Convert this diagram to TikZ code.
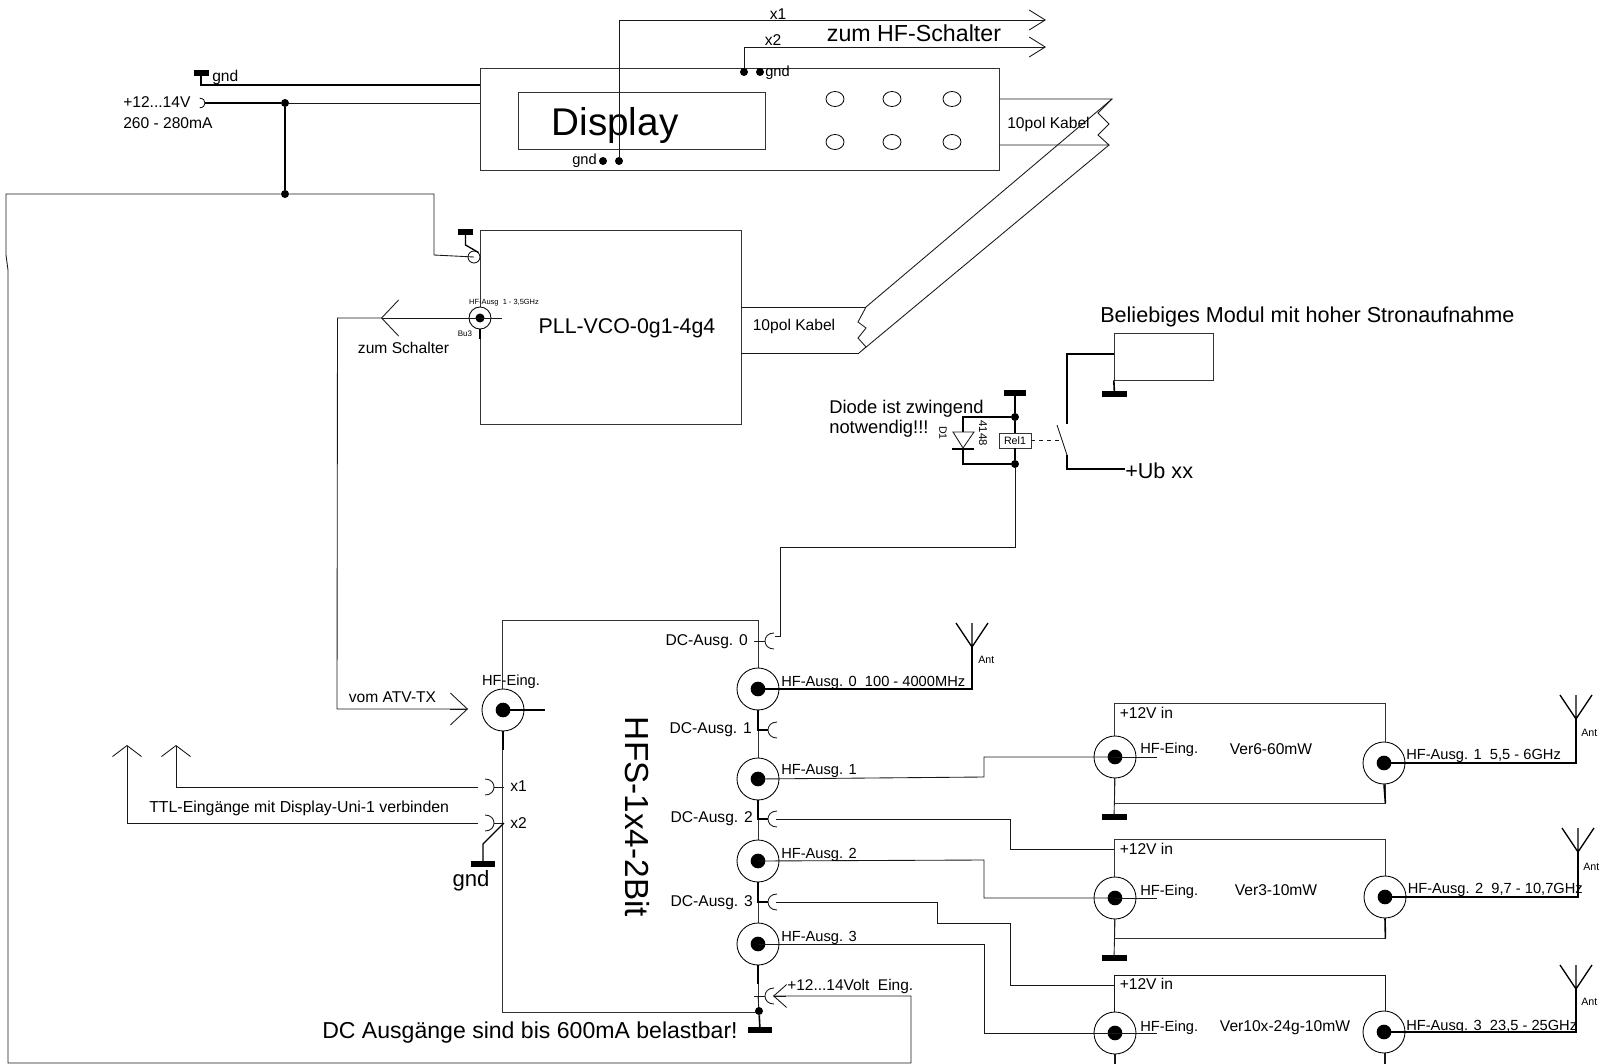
\documentclass[tikz,border=0pt]{standalone}
\usepackage{fontspec}
\setmainfont{Liberation Sans}
\usetikzlibrary{arrows.meta}
\usetikzlibrary{shapes.geometric}
\newcommand{\unitpx}{0.75pt}

\begin{document}
\begin{tikzpicture}[x=0.75pt, y=-0.75pt,
every node/.style = {inner sep=0pt, font=\fontsize{11.7}{14}\selectfont},
fs/.style = {font=\fontsize{#1}{#1}\selectfont},
lbl/.style = {anchor=west},
hflbl/.style = {anchor=west, fs=11},
wire/.style = {line width=0.65pt, color=black!90},
bwire/.style = {line width=1.2pt, color=black},
barb/.style 2 args = {-{Straight Barb[length=#1, width=#2]}},
block/.style 2 args = {draw=black!80, line width=0.65pt, rectangle,
  minimum width=#1*\unitpx, minimum height=#2*\unitpx},
gndbar/.style = {fill=black, rectangle, minimum width=#1*\unitpx, minimum height=5.5*\unitpx},
gndbar/.default = 25,
junction/.style = {circle, fill=black, minimum size=8*\unitpx},
button/.style = {ellipse, draw, line width=0.6pt, minimum width=18*\unitpx, minimum height=15*\unitpx},
coax/.style 2 args = {circle, draw, fill=white, line width=0.65pt, minimum size=#1*\unitpx,
  path picture={\fill[black] (path picture bounding box.center) circle (#2);}},
socket/.pic = {\draw[wire] (-9,-8) .. controls (-3,-8) and (0,-4) .. (0,0)
  .. controls (0,4) and (-3,8) .. (-9,8);},
antenna/.pic = {\draw[bwire, line width=1pt] (-16,0) -- (0,24) -- (16,0) (0,0) -- (0,24);}
]
\useasboundingbox (0,0) rectangle (1607,1064);

\node [block={519}{102}] (display) at (739.5,119) {};
\node [block={247}{57}] (screen) at (642,120.5) {};
\node [block={261}{194}] (pll) at (610.5,327) {};
\node [block={256}{392}] (hfs) at (630,816) {};
\node [block={271}{100}] (ver6) at (1249.5,753) {};
\node [block={271}{99}] (ver3) at (1249.5,888.5) {};
\node [block={99.5}{47}] (modul) at (1164,356.5) {};
\coordinate (ver10sw) at (1114,1064);
\coordinate (ver10se) at (1385,1064);
\draw [wire] (ver10sw) |- (1385,975) -- (ver10se);

\node [fs=29] (displaytxt) at (615,126) {Display};
\node [fs=16] (plltxt) at (627,328) {PLL-VCO-0g1-4g4};
\node [fs=25, rotate=-90] (hfstxt) at (637,817) {HFS-1x4-2Bit};
\foreach \bx/\by [count=\bi] in {835/99,892/99,952/99,835/142,892/142,952/142}
  \node [button] (btn\bi) at (\bx,\by) {};

\node [gndbar=15] (gndin) at (201,73) {};
\node [gndbar=15] (gndpll) at (465.5,232) {};
\node [gndbar] (gndmod) at (1114.5,394) {};
\node [gndbar=22] (gndrel) at (1015,393) {};
\node [gndbar=24] (gndx2) at (483,864) {};
\node [gndbar=24] (gndhfs) at (760,1030) {};
\node [gndbar] (gndv6) at (1114,817) {};
\node [gndbar] (gndv3) at (1114,958) {};

\node [junction] (vdot) at (285,103) {};
\node [junction] (jdot) at (285,194) {};
\node [junction] (dtop) at (1015,417) {};
\node [junction] (dbot) at (1015,464) {};
\node [junction] (hfsdot) at (759,1011) {};
\node [junction] (gndl) at (603,161) {};
\node [junction] (x1l) at (619,161) {};
\node [junction] (x2l) at (744,72) {};
\node [junction] (gndr) at (760,72) {};

\node [block={32}{15}, fill=white, fs=8] (rel) at (1015,440.5) {Rel1};
\node [circle, draw, fill=white, line width=0.6pt, minimum size=12*\unitpx] (pllsock) at (474,257) {};

\node [coax={22}{3.4pt}] (pllout) at (480,318) {};
\node [coax={42}{5.5pt}] (hfein) at (503,710) {};
\node [coax={42}{5.5pt}] (hfa0) at (758,689) {};
\node [coax={42}{5.5pt}] (hfa1) at (758,779) {};
\node [coax={42}{5.5pt}] (hfa2) at (758,861) {};
\node [coax={42}{5.5pt}] (hfa3) at (758,944) {};
\node [coax={42}{5.5pt}] (ver6hf) at (1115,757) {};
\node [coax={42}{5.5pt}] (ver3hf) at (1115,898) {};
\node [coax={42}{5.5pt}] (ver10hf) at (1115,1033) {};
\node [coax={42}{5.5pt}] (ver6out) at (1384,763) {};
\node [coax={42}{5.5pt}] (ver3out) at (1385,897) {};
\node [coax={42}{5.5pt}] (ver10out) at (1384,1032) {};

\coordinate (vin) at (205,103);
\coordinate (dspgnd) at (480,85);
\coordinate (x1end) at (1046,20);
\coordinate (x2end) at (1046,47);
\coordinate (zs) at (381,318);
\coordinate (vtx) at (468,709);
\coordinate (x1up) at (176,745);
\coordinate (x2up) at (127,745);
\coordinate (x1in) at (494,787);
\coordinate (x2in) at (494,823);
\coordinate (dc0) at (765,641);
\coordinate (dc0w) at (775,636);
\coordinate (dc1) at (768,730);
\coordinate (dc2) at (768,819);
\coordinate (dc3) at (768,902);
\coordinate (dcin) at (765,996);
\coordinate (vfs) at (773,996);
\coordinate (ver3in) at (1114,849);
\coordinate (ver10in) at (1114,985);
\coordinate (ant0) at (972,647);
\coordinate (ant1) at (1576,719);
\coordinate (ant2) at (1578,852);
\coordinate (ant3) at (1576,989);
\coordinate (ca) at (1112,99);
\coordinate (cb) at (1109,145);
\coordinate (cc) at (866,307);
\coordinate (cd) at (859,353);
\coordinate (modfeed) at (1114,354);
\coordinate (swa) at (1057,425);
\coordinate (swb) at (1067,455);
\coordinate (swc) at (1067,424);
\coordinate (ub) at (1125,469);

\pic [scale=0.6] at (vin) {socket};
\pic at (x1in) {socket};
\pic at (x2in) {socket};
\pic [xscale=-1] at (dc0) {socket};
\pic [xscale=-1] at (dc1) {socket};
\pic [xscale=-1] at (dc2) {socket};
\pic [xscale=-1] at (dc3) {socket};
\pic [xscale=-1] at (dcin) {socket};
\pic at (972,623) {antenna};
\pic at (1576,695) {antenna};
\pic at (1578,828) {antenna};
\pic at (1576,965) {antenna};

\draw [bwire] (gndin.center) |- (dspgnd);
\draw [bwire] (vin) -- (vdot);
\draw [wire] (vdot) -- (display.west |- vdot);
\draw [bwire] (vdot) -- (jdot);
\draw [wire] (pllsock.center) -- (434,255) -- (434,194) -- (jdot);
\draw [wire] (jdot) -- (6,194) -- (6,255) -- (8,270) -- (8,1063) -- (911,1063) -- (911,996) -- (vfs);
\draw [wire, barb={9.75pt}{17.25pt}] (786,996) -- (vfs);
\draw [bwire, line width=1pt] (gndpll.center) -- (465.5,245) -- (pllsock.north east);

\draw [wire, barb={12pt}{15pt}] (x1l) -- (619,20) -- (x1end);
\draw [wire, barb={12pt}{15pt}] (x2l) -- (744,47) -- (x2end);

\draw [wire] (display.east |- ca) -- (ca) -- (1098,113) -- (1109,124) -- (1098,135) -- (cb) -- (display.east |- cb);
\draw [wire] (ca) -- (cc) -- (858,322) -- (866,328) -- (858,338) -- (866,347) -- (cd) -- (cb);
\draw [wire] (pll.east |- cc) -- (cc);
\draw [wire] (pll.east |- cd) -- (cd);

\draw [wire, barb={12.75pt}{27pt}] (pllout.center) -- (zs);
\draw [wire] (pllout.center) -- (502,318);
\draw [bwire] (pllout.south) -- (480,339);
\draw [wire] (zs) -- (337.5,318) -- (337,709) -- (vtx);
\draw [wire, barb={12.75pt}{24pt}] (450,709) -- (vtx);

\draw [bwire] (hfein.center) -- (545,710);
\draw [bwire] (hfein.south) -- (503,750);
\draw [wire, barb={8.25pt}{21.75pt}] (x1in) ++(-16,0) -| (x1up);
\draw [wire, barb={8.25pt}{21.75pt}] (x2in) ++(-16,0) -| (x2up);
\draw [wire] (x1in) -- (504,787);
\draw [wire] (x2in) -- (504,823);
\draw [bwire, line width=1pt] (504,823) -- (483,844) -- (gndx2.center);

\draw [wire] (dc0) -- ++(-11,0);
\draw [wire] (dc0w) -- (780,636) -- (780,547) -- (1015,547) -- (dbot);
\draw [bwire] (hfa0.south) |- (dc1);
\draw [bwire] (hfa1.south) |- (dc2);
\draw [bwire] (hfa2.south) |- (dc3);
\draw [bwire] (hfa3.south) -- (758,984);
\draw [wire] (dcin) -- ++(-11,0);
\draw [wire] (758,996) -- (hfsdot);
\draw [bwire] (hfsdot) -- (gndhfs.center);

\draw [wire] (dc2) ++(8,0) -- (1010,819) -- (1010,849) -- (ver3in);
\draw [wire] (dc3) ++(8,0) -- (937,902) -- (937,923) -- (1010,923) -- (1010,985) -- (ver10in);
\draw [bwire] (hfa0.center) -| (ant0);
\draw [wire] (hfa1.center) -- (984,777) -- (984,757) -- (ver6hf.center);
\draw [wire] (hfa2.center) -- (984,860) -- (984,898) -- (ver3hf.center);
\draw [wire] (hfa3.center) -- (984,944) -- (984,1033) -- (ver10hf.center);

\draw [wire] (ver6hf.center) -- (1157,757);
\draw [wire] (ver3hf.center) -- (1157,898);
\draw [wire] (ver10hf.center) -- (1157,1033);
\draw [wire] (ver6hf.south) -- (gndv6.center);
\draw [wire] (ver3hf.south) -- (gndv3.center);
\draw [wire] (ver10hf.south) -- (1115,1064);
\draw [bwire] (ver6out.south) -- (ver6.south east);
\draw [bwire] (ver3out.south) -- (ver3.south east);
\draw [wire] (ver10out.south) -- (1384,1064);
\draw [bwire] (ver6out.center) -| (ant1);
\draw [bwire] (ver3out.center) -| (ant2);
\draw [bwire] (ver10out.center) -| (ant3);

\draw [bwire] (modul.south west) -- (gndmod.center);
\draw [bwire] (modfeed) -- (1067,354) -- (swc);
\draw [wire] (swa) -- (swb);
\draw [bwire] (swb) -- (1067,469) -- (ub);
\draw [wire, dashed, line width=1pt] (rel.east) -- (1062,440.5);
\draw [bwire] (gndrel.center) -- (dtop) -- (rel.north);
\draw [bwire] (rel.south) -- (dbot);
\draw [bwire] (dtop) -- (963,417) -- (963,432);
\draw [bwire] (963,449) -- (963,464) -- (dbot);
\draw [wire] (953,432) -- (974,432) -- (963,448) -- cycle;
\draw [bwire] (952,449) -- (974,449);

\node [lbl] (gndintxt) at (212,77) {gnd};
\node [lbl] (vintxt) at (123,102) {+12...14V};
\node [lbl] (mAtxt) at (123,123) {260 - 280mA};
\node [anchor=east, fs=11] (gndltxt) at (597,161) {gnd};
\node [lbl, fs=11] (gndrtxt) at (765,73) {gnd};
\node (x1txt) at (778,14) {x1};
\node (x2txt) at (773,40) {x2};
\node [fs=17.4] (zumhf) at (914,33) {zum HF-Schalter};
\node (kabel1) at (1048.5,124) {10pol Kabel};
\node (kabel2) at (794,326) {10pol Kabel};
\node [fs=5.6] (hfpll) at (504,303) {HF-Ausg\ \ 1 - 3,5GHz};
\node [fs=6] (bu3) at (465,334) {Bu3};
\node (zumsch) at (403.5,348) {zum Schalter};
\node [fs=16.2, lbl] (beliebig) at (1100,317) {Beliebiges Modul mit hoher Stronaufnahme};
\node [fs=13.8, lbl] (diode1) at (829,409) {Diode ist zwingend};
\node [fs=13.8, lbl] (diode2) at (829,429) {notwendig!!!};
\node [fs=8, rotate=-90] (d1) at (943,433) {D1};
\node [fs=8.5, rotate=-90] (d4148) at (983,433) {4148};
\node [fs=16.2, lbl] (ubxx) at (1125,471) {+Ub xx};

\node (vomtx) at (392.5,697) {vom ATV-TX};
\node [fs=11] (hfeintxt) at (511,682) {HF-Eing.};
\node [lbl, fs=11.9] (ttl) at (149,808) {TTL-Eingänge mit Display-Uni-1 verbinden};
\node [lbl] (x1lbl) at (510,786) {x1};
\node [lbl] (x2lbl) at (510,823) {x2};
\node [fs=16.6] (gndx2txt) at (471,881) {gnd};
\node [fs=17.3] (dcnote) at (530,1033) {DC Ausgänge sind bis 600mA belastbar!};

\node [anchor=east] (dc0txt) at (748,642) {DC-Ausg. 0};
\node [anchor=east] (dc1txt) at (752,730) {DC-Ausg. 1};
\node [anchor=east] (dc2txt) at (753,819) {DC-Ausg. 2};
\node [anchor=east] (dc3txt) at (753,903) {DC-Ausg. 3};
\node [hflbl] (hfa0txt) at (781,683) {HF-Ausg. 0\ \ 100 - 4000MHz};
\node [hflbl] (hfa1txt) at (781,771) {HF-Ausg. 1};
\node [hflbl] (hfa2txt) at (781,855) {HF-Ausg. 2};
\node [hflbl] (hfa3txt) at (781,938) {HF-Ausg. 3};
\node [lbl, fs=11.6] (vintxt2) at (787,986) {+12...14Volt\ \ Eing.};

\node [fs=8, lbl] (ant0txt) at (978,660) {Ant};
\node [fs=8, lbl] (ant1txt) at (1581,733) {Ant};
\node [fs=8, lbl] (ant2txt) at (1583,867) {Ant};
\node [fs=8, lbl] (ant3txt) at (1581,1002) {Ant};

\node [lbl] (in6) at (1119.5,713) {+12V in};
\node [lbl] (in3) at (1119.5,849) {+12V in};
\node [lbl] (in10) at (1119.5,984) {+12V in};
\node [hflbl] (ein6) at (1140,750) {HF-Eing.};
\node [hflbl] (ein3) at (1140,892) {HF-Eing.};
\node [hflbl] (ein10) at (1140,1028) {HF-Eing.};
\node (ver6txt) at (1271,749) {Ver6-60mW};
\node (ver3txt) at (1276,890) {Ver3-10mW};
\node (ver10txt) at (1285,1028) {Ver10x-24g-10mW};
\node [hflbl] (out6) at (1406,756) {HF-Ausg. 1\ \ 5,5 - 6GHz};
\node [hflbl] (out3) at (1407.5,890) {HF-Ausg. 2\ \ 9,7 - 10,7GHz};
\node [hflbl] (out10) at (1406,1027) {HF-Ausg. 3\ \ 23,5 - 25GHz};

\end{tikzpicture}
\end{document}
